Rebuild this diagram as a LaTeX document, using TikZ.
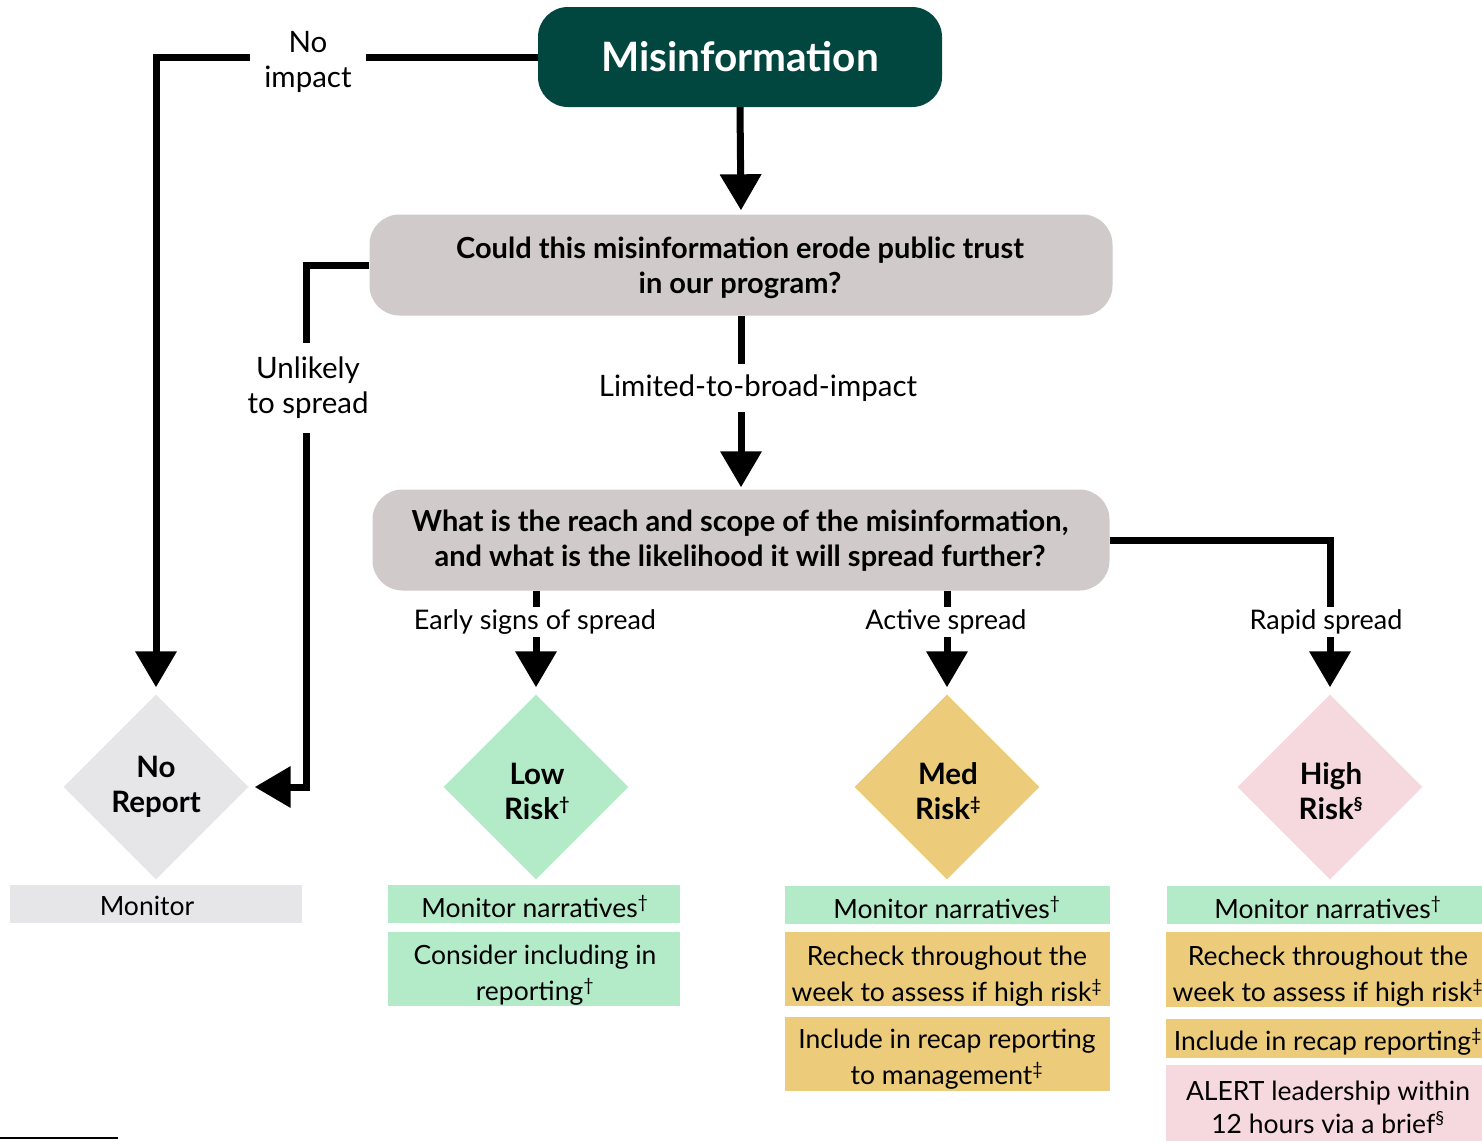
\documentclass[tikz,border=0pt]{standalone}
\usepackage{fontspec}
\setmainfont{Lato}
\usetikzlibrary{arrows.meta,shapes.geometric}
\definecolor{teal}{RGB}{1,71,64}
\definecolor{qgray}{RGB}{208,202,202}
\definecolor{nrgray}{RGB}{230,230,232}
\definecolor{mint}{RGB}{179,235,201}
\definecolor{gold}{RGB}{236,204,123}
\definecolor{pinkish}{RGB}{246,217,223}
\tikzset{
  conn/.style={line width=7pt, -{Triangle[length=36pt,width=40pt]}},
  lab/.style={fill=white, font=\fontsize{29.5}{35}\selectfont, align=center, inner sep=2pt},
  slab/.style={fill=white, font=\fontsize{27}{34}\selectfont, align=center, inner sep=2pt},
  qbox/.style={fill=qgray, rounded corners=30pt, minimum width=743pt, minimum height=101pt},
  dia/.style={diamond, minimum width=185pt, minimum height=185pt, inner sep=0pt, align=center, font=\bfseries\fontsize{29.5}{35}\selectfont},
  actbox/.style={inner sep=0pt},
  acttext/.style={inner sep=0pt, align=center, font=\fontsize{26.5}{36}\selectfont},
}
\newcommand{\supmark}[1]{\textsuperscript{\fontsize{18}{18}\selectfont #1}}
\begin{document}
\begin{tikzpicture}[x=1pt,y=-1pt]
\useasboundingbox (0,0) rectangle (1482,1141);
% main nodes
\node[fill=teal, rounded corners=30pt, minimum width=404pt, minimum height=100pt, text=white, font=\bfseries\fontsize{40.5}{48}\selectfont] (mis) at (740,57) {Misinformation};
\node[qbox] (q1) at (741,265) {};
\node[qbox, minimum width=737pt] (q2) at (741,540) {};
\node[align=center, font=\bfseries\fontsize{29}{35}\selectfont] (q1t) at (740,268) {Could this misinformation erode public trust\\in our program?};
\node[align=center, font=\bfseries\fontsize{29}{35}\selectfont] (q2t) at (740,541) {What is the reach and scope of the misinformation,\\and what is the likelihood it will spread further?};
% diamonds
\node[dia, fill=nrgray] (nr) at (156,787) {No\\Report};
\node[dia, fill=mint] (lr) at (536,787) {};
\node[dia, fill=gold] (mr) at (947,787) {};
\node[dia, fill=pinkish] (hr) at (1330,787) {};
\node[align=center, font=\bfseries\fontsize{29.5}{35}\selectfont] (lrt) at (537,791) {Low\\Risk\supmark{†}};
\node[align=center, font=\bfseries\fontsize{29.5}{35}\selectfont] (mrt) at (948,791) {Med\\Risk\supmark{‡}};
\node[align=center, font=\bfseries\fontsize{29.5}{35}\selectfont] (hrt) at (1331,791) {High\\Risk\supmark{§}};
% action boxes
\node[actbox, fill=nrgray, minimum width=292pt, minimum height=38pt] (a0) at (156,904) {};
\node[acttext] (a0t) at (147,906) {Monitor};
\node[actbox, fill=mint, minimum width=292pt, minimum height=38pt] (a1) at (534,904) {};
\node[acttext] (a1t) at (535,906) {Monitor narratives\supmark{†}};
\node[actbox, fill=mint, minimum width=292pt, minimum height=74pt] (a2) at (534,969) {};
\node[acttext] (a2t) at (535,975) {Consider including in\\reporting\supmark{†}};
\node[actbox, fill=mint, minimum width=325pt, minimum height=38pt] (b1) at (947.5,905) {};
\node[acttext] (b1t) at (947,907) {Monitor narratives\supmark{†}};
\node[actbox, fill=gold, minimum width=325pt, minimum height=74pt] (b2) at (947.5,969) {};
\node[acttext] (b2t) at (947,976) {Recheck throughout the\\week to assess if high risk\supmark{‡}};
\node[actbox, fill=gold, minimum width=325pt, minimum height=74pt] (b3) at (947.5,1054) {};
\node[acttext] (b3t) at (947,1059) {Include in recap reporting\\to management\supmark{‡}};
\node[actbox, fill=mint, minimum width=315pt, minimum height=38pt] (c1) at (1324.5,905) {};
\node[acttext] (c1t) at (1328,907) {Monitor narratives\supmark{†}};
\node[actbox, fill=gold, minimum width=316pt, minimum height=75pt] (c2) at (1324,969.5) {};
\node[acttext] (c2t) at (1328,976) {Recheck throughout the\\week to assess if high risk\supmark{‡}};
\node[actbox, fill=gold, minimum width=316pt, minimum height=39pt] (c3) at (1324,1038.5) {};
\node[acttext] (c3t) at (1328,1042) {Include in recap reporting\supmark{‡}};
\node[actbox, fill=pinkish, minimum width=316pt, minimum height=76pt] (c4) at (1324,1103) {};
\node[acttext, font=\fontsize{26.5}{33}\selectfont] (c4t) at (1328,1107) {ALERT leadership within\\12 hours via a brief\supmark{§}};
% connectors
\draw[conn, shorten >=4pt] (mis.south) -- (q1.north);
\draw[conn, shorten >=7pt] (mis.west) -| (nr.north);
\draw[conn, shorten >=6pt] (q1.west) -- (306,265) |- (nr.east);
\draw[conn, shorten >=2pt] (q1.south) -- (q2.north);
\draw[conn, shorten >=7pt] (q2.south -| lr.north) -- (lr.north);
\draw[conn, shorten >=7pt] (q2.south -| mr.north) -- (mr.north);
\draw[conn, shorten >=7pt] (q2.east) -| (hr.north);
% labels
\node[lab, inner xsep=14pt] (l1) at (308,62) {No\\impact};
\node[lab, inner ysep=14pt] (l2) at (308,388) {Unlikely\\to spread};
\node[lab, inner ysep=11pt] (l3) at (758,388) {Limited-to-broad-impact};
\node[slab, inner ysep=3pt] (l4) at (535,622) {Early signs of spread};
\node[slab, inner ysep=3pt] (l5) at (946,622) {Active spread};
\node[slab, inner ysep=3pt] (l6) at (1326,622) {Rapid spread};
% footnote rule
\coordinate (fr1) at (0,1138);
\coordinate (fr2) at (118,1138);
\draw[line width=1.2pt] (fr1) -- (fr2);
\end{tikzpicture}
\end{document}
